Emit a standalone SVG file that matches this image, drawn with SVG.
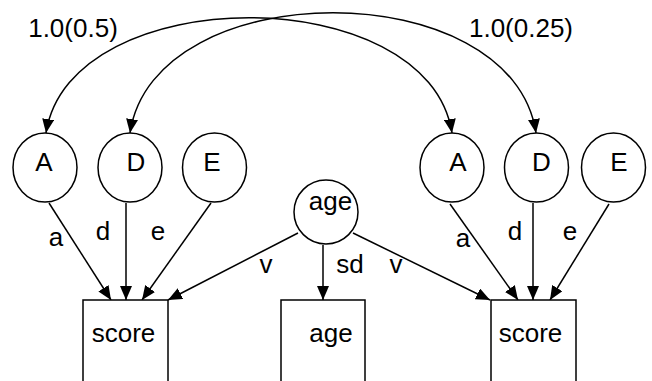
<svg xmlns="http://www.w3.org/2000/svg" width="652" height="381" viewBox="0 0 652 381">
<style>
.n{fill:#fff;stroke:#000;stroke-width:1.5}
.t{font-family:"Liberation Sans",Arial,sans-serif;font-size:26px;fill:#000;text-anchor:middle}
.e{fill:none;stroke:#000;stroke-width:1.5;marker-end:url(#ah)}
.b{marker-start:url(#ah)}
</style>
<defs>
<marker id="ah" markerUnits="userSpaceOnUse" markerWidth="14" markerHeight="12" refX="14" refY="6" orient="auto-start-reverse" viewBox="0 0 14 12">
<path d="M0,0 L14,6 L0,12 z" fill="#000"/>
</marker>
</defs>
<rect width="652" height="381" fill="#fff"/>
<g id="connectors">
<path class="e b" d="M46,133 C70,-20.7 428,-20.7 452,133"/>
<path class="e b" d="M130,133 C154,-27.3 512,-27.3 536,133"/>
<path class="e" d="M49,203 L111,300"/>
<path class="e" d="M126,203 L126,300"/>
<path class="e" d="M211,203 L142,300"/>
<path class="e" d="M298,233 L168,300"/>
<path class="e" d="M323,245 L323,300"/>
<path class="e" d="M353,233 L490,300"/>
<path class="e" d="M450,204 L518,300"/>
<path class="e" d="M533,203 L533,300"/>
<path class="e" d="M609,204 L550,300"/>
<text class="t" x="73" y="37">1.0(0.5)</text>
<text class="t" x="521" y="37">1.0(0.25)</text>
<text class="t" x="56" y="246">a</text>
<text class="t" x="103" y="240">d</text>
<text class="t" x="158" y="240">e</text>
<text class="t" x="266" y="273">v</text>
<text class="t" x="350" y="273">sd</text>
<text class="t" x="396" y="273">v</text>
<text class="t" x="463" y="247">a</text>
<text class="t" x="515" y="240">d</text>
<text class="t" x="570" y="240">e</text>
</g>
<g id="A1"><ellipse class="n" cx="45" cy="167.5" rx="32" ry="34.5"/><text class="t" x="44" y="171">A</text></g>
<g id="D1"><ellipse class="n" cx="130" cy="167.5" rx="32" ry="34.5"/><text class="t" x="136" y="171">D</text></g>
<g id="E1"><ellipse class="n" cx="214.5" cy="167.5" rx="32" ry="34.5"/><text class="t" x="212" y="171">E</text></g>
<g id="A2"><ellipse class="n" cx="452" cy="167.5" rx="32" ry="34.5"/><text class="t" x="458" y="171">A</text></g>
<g id="D2"><ellipse class="n" cx="536.5" cy="167.5" rx="32" ry="34.5"/><text class="t" x="541.5" y="171">D</text></g>
<g id="E2"><ellipse class="n" cx="613.5" cy="167.5" rx="32" ry="34.5"/><text class="t" x="619" y="171">E</text></g>
<g id="ageLatent"><ellipse class="n" cx="326" cy="212" rx="32" ry="32"/><text class="t" x="330.5" y="210">age</text></g>
<g id="score1"><rect class="n" x="83" y="300" width="85" height="100"/><text class="t" x="123.5" y="342">score</text></g>
<g id="ageObs"><rect class="n" x="281" y="300" width="84" height="100"/><text class="t" x="331" y="342">age</text></g>
<g id="score2"><rect class="n" x="491" y="300" width="85" height="100"/><text class="t" x="530.5" y="342">score</text></g>
</svg>
